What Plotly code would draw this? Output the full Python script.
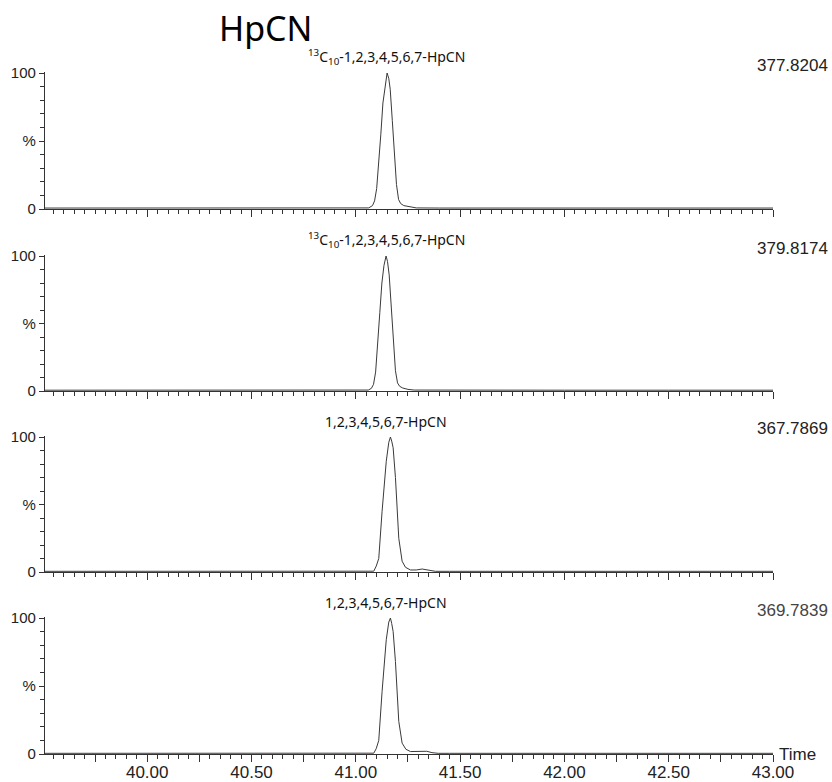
import plotly.graph_objects as go

# ---------------- data ----------------
title_text = "HpCN"
compound_labels = [
    "<sup>13</sup>C<sub>10</sub>-1,2,3,4,5,6,7-HpCN",
    "<sup>13</sup>C<sub>10</sub>-1,2,3,4,5,6,7-HpCN",
    "1,2,3,4,5,6,7-HpCN",
    "1,2,3,4,5,6,7-HpCN",
]
mass_labels = ["377.8204", "379.8174", "367.7869", "369.7839"]

t1 = [39.51, 40.00, 40.50, 41.00, 41.062, 41.08, 41.09, 41.10, 41.11, 41.12, 41.13, 41.14,
      41.15, 41.158, 41.165, 41.175, 41.185, 41.195, 41.205, 41.215, 41.23, 41.26, 41.29,
      41.40, 42.00, 42.50, 43.00]
y1 = [0.7, 0.7, 0.8, 0.7, 0.8, 2.5, 6, 15, 32, 55, 78, 90,
      100, 96, 88, 65, 42, 18, 7, 4, 2.5, 1.5, 0.8,
      0.7, 0.7, 0.7, 0.7]

t2 = [39.51, 40.00, 40.50, 41.00, 41.06, 41.075, 41.085, 41.095, 41.105, 41.115, 41.125, 41.135,
      41.145, 41.152, 41.160, 41.170, 41.180, 41.190, 41.200, 41.210, 41.225, 41.25, 41.28,
      41.40, 42.00, 42.50, 43.00]
y2 = [0.6, 0.6, 0.6, 0.6, 0.7, 2.0, 5, 14, 33, 58, 80, 93,
      100, 96, 86, 62, 38, 15, 6, 3.5, 2.2, 1.2, 0.7,
      0.6, 0.6, 0.6, 0.6]

t3 = [39.51, 40.00, 40.50, 41.00, 41.086, 41.098, 41.110, 41.126, 41.146, 41.158, 41.166,
      41.172, 41.179, 41.190, 41.206, 41.222, 41.238, 41.262, 41.29, 41.318, 41.34, 41.358,
      41.382, 41.45, 42.00, 42.50, 43.00]
y3 = [0.5, 0.5, 0.5, 0.5, 0.6, 4.4, 10, 45, 82, 96, 100,
      97, 92, 70, 25, 8, 3.5, 1.5, 1.5, 2.2, 1.8, 1.0,
      0.5, 0.5, 0.5, 0.5, 0.5]

t4 = [39.51, 40.00, 40.50, 41.00, 41.086, 41.098, 41.110, 41.126, 41.146, 41.158, 41.166,
      41.172, 41.179, 41.190, 41.206, 41.222, 41.240, 41.262, 41.29, 41.318, 41.34, 41.365,
      41.395, 41.45, 42.00, 42.50, 43.00]
y4 = [0.5, 0.5, 0.5, 0.5, 0.6, 4.0, 10, 46, 84, 97, 100,
      96, 90, 68, 24, 8, 3.5, 1.8, 1.8, 2.3, 2.0, 1.0,
      0.5, 0.5, 0.5, 0.5, 0.5]

series_t = [t1, t2, t3, t4]
series_y = [y1, y2, y3, y4]

x_tick_vals = [39.75, 40.00, 40.25, 40.50, 40.75, 41.00, 41.25, 41.50, 41.75,
               42.00, 42.25, 42.50, 42.75, 43.00]
x_tick_text = ["", "40.00", "", "40.50", "", "41.00", "", "41.50", "",
               "42.00", "", "42.50", "", "43.00"]
y_tick_vals = [0, 50, 100]
y_tick_text = ["0", "%", "100"]
x_axis_label = "Time"

# ---------------- layout ----------------
W, H = 832, 782
L_PX, R_PX = 45, 773
X_RANGE = [39.51, 43.0]
# pixel rows of 0 and 100 for each panel
panel_px = [(209, 73), (391, 256), (572, 437), (754, 618)]

def py(px):
    return 1 - px / H

fig = go.Figure()
xtick_font = dict(family="Liberation Sans, Arial, sans-serif", size=17, color="#222")
ytick_font = dict(family="Liberation Sans, Arial, sans-serif", size=15, color="#222")
line_col = "#333"

for i in range(4):
    n = "" if i == 0 else str(i + 1)
    fig.add_trace(go.Scatter(
        x=series_t[i], y=series_y[i], mode="lines",
        line=dict(color="#3a3a3a", width=1), xaxis="x" + n, yaxis="y" + n,
        showlegend=False, hoverinfo="skip"))
    y0, y100 = panel_px[i]
    top = y100 - 1  # small headroom so apex isn't clipped
    fig.layout["xaxis" + n] = dict(
        domain=[L_PX / W, R_PX / W], range=X_RANGE, anchor="y" + n, automargin=False,
        showgrid=False, zeroline=False, showline=True, linecolor=line_col, linewidth=1.2,
        ticks="outside", ticklen=7, tickwidth=1, tickcolor=line_col,
        tickmode="array", tickvals=x_tick_vals, ticktext=x_tick_text,
        showticklabels=(i == 3), tickfont=xtick_font, ticklabelstandoff=-5,
        minor=dict(tickmode="linear", tick0=39.5, dtick=0.05, ticks="outside",
                   ticklen=4, tickwidth=1, tickcolor=line_col),
        fixedrange=True)
    yr_top = 100 * (y0 - top) / (y0 - y100)
    fig.layout["yaxis" + n] = dict(
        domain=[py(y0), py(top)], range=[0, yr_top], anchor="x" + n, automargin=False,
        showgrid=False, zeroline=False, showline=True, linecolor=line_col, linewidth=1.2,
        ticks="outside", ticklen=5, tickwidth=1, tickcolor=line_col,
        tickmode="array", tickvals=y_tick_vals, ticktext=y_tick_text,
        tickfont=ytick_font, ticklabelstandoff=0,
        minor=dict(tickmode="linear", tick0=0, dtick=10, ticks="outside",
                   ticklen=4, tickwidth=1, tickcolor=line_col),
        fixedrange=True)

annotations = []
annotations.append(dict(text=title_text, x=265 / W, y=py(28), xref="paper", yref="paper",
                        xanchor="center", yanchor="middle", showarrow=False,
                        font=dict(family="Noto Sans, Open Sans, sans-serif", size=34, color="#000")))
for i in range(4):
    y0, y100 = panel_px[i]
    annotations.append(dict(text=compound_labels[i], x=386 / W, y=py(y100 - 16),
                            xref="paper", yref="paper", xanchor="center", yanchor="middle",
                            showarrow=False,
                            font=dict(family="Noto Sans, Open Sans, sans-serif", size=14, color="#111")))
    annotations.append(dict(text=mass_labels[i], x=830 / W, y=py(y100 - 8),
                            xref="paper", yref="paper", xanchor="right", yanchor="middle",
                            showarrow=False,
                            font=dict(family="Liberation Sans, Arial, sans-serif", size=17,
                                      color="#444" if i == 3 else "#222")))
annotations.append(dict(text=x_axis_label, x=777 / W, y=py(754), xref="paper", yref="paper",
                        xanchor="left", yanchor="middle", showarrow=False,
                        font=dict(family="Liberation Sans, Arial, sans-serif", size=17, color="#222")))

fig.update_layout(width=W, height=H, margin=dict(l=0, r=0, t=0, b=0),
                  paper_bgcolor="white", plot_bgcolor="white", annotations=annotations)

fig.write_html("out.html")
